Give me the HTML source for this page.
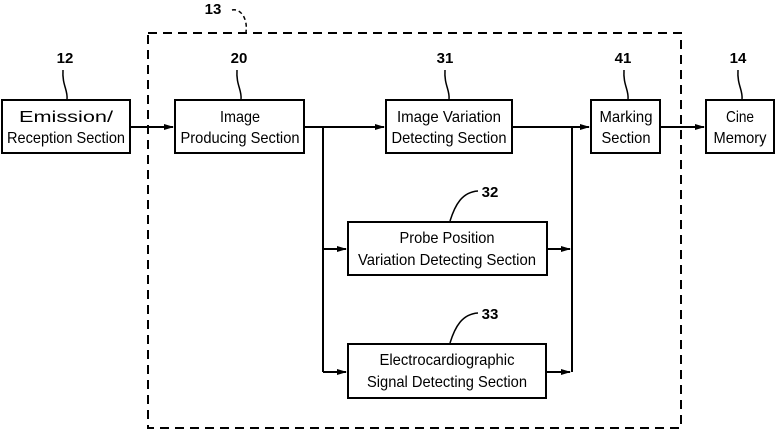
<!DOCTYPE html>
<html><head><style>html,body{margin:0;padding:0;background:#fff}</style></head>
<body>
<svg width="776" height="430" viewBox="0 0 776 430" xmlns="http://www.w3.org/2000/svg" font-family="Liberation Sans, sans-serif" font-size="16" fill="#000">
<defs><marker id="a" markerWidth="10" markerHeight="8" refX="9" refY="4" orient="auto" markerUnits="userSpaceOnUse"><path d="M0,1 L10,4 L0,7 Z" fill="#000"/></marker></defs>
<g fill="none" stroke="#000" stroke-width="2">
<rect x="148" y="33" width="533" height="395" stroke-dasharray="9,6"/>
<rect x="2" y="100" width="128" height="53"/>
<rect x="175" y="100" width="129" height="53"/>
<rect x="386" y="100" width="126" height="53"/>
<rect x="591" y="100" width="69" height="53"/>
<rect x="706" y="100" width="68" height="53"/>
<rect x="348" y="222" width="199" height="53"/>
<rect x="348" y="344" width="198" height="54"/>
<path d="M130,127 H173" marker-end="url(#a)"/>
<path d="M304,127 H384" marker-end="url(#a)"/>
<path d="M512,127 H589" marker-end="url(#a)"/>
<path d="M660,127 H704" marker-end="url(#a)"/>
<path d="M323,127 V372"/>
<path d="M323,249 H346" marker-end="url(#a)"/>
<path d="M323,372 H346" marker-end="url(#a)"/>
<path d="M572,127 V372"/>
<path d="M547,249 H570" marker-end="url(#a)"/>
<path d="M546,372 H570" marker-end="url(#a)"/>
<g stroke-width="1.5">
<path d="M67,99 C68,90 62,85 63,70"/>
<path d="M241,99 C242,90 236,85 237,70"/>
<path d="M449,99 C450,90 444,85 445,70"/>
<path d="M628,99 C629,90 623,85 624,70"/>
<path d="M742,99 C743,90 737,85 738,70"/>
<path d="M232,10 C240,8 248,18 246,32" stroke-dasharray="4,3"/>
<path d="M450,221 C455,205 462,192 478,191"/>
<path d="M450,343 C455,327 462,314 478,313"/>
</g>
</g>
<g text-anchor="middle" font-weight="bold" font-size="15">
<text x="65" y="63">12</text><text x="239" y="63">20</text><text x="445" y="63">31</text><text x="623" y="63">41</text><text x="738" y="63">14</text>
<text x="213" y="14">13</text><text x="490" y="197">32</text><text x="490" y="319">33</text>
</g>
<g text-anchor="middle" font-size="16">
<text x="66" y="122" textLength="94" lengthAdjust="spacingAndGlyphs">Emission/</text>
<text x="66" y="143" textLength="118" lengthAdjust="spacingAndGlyphs">Reception Section</text>
<text x="240" y="122" textLength="40" lengthAdjust="spacingAndGlyphs">Image</text>
<text x="240" y="143" textLength="119" lengthAdjust="spacingAndGlyphs">Producing Section</text>
<text x="449" y="122" textLength="104" lengthAdjust="spacingAndGlyphs">Image Variation</text>
<text x="449" y="143" textLength="115" lengthAdjust="spacingAndGlyphs">Detecting Section</text>
<text x="626" y="122" textLength="53" lengthAdjust="spacingAndGlyphs">Marking</text>
<text x="626" y="143" textLength="49" lengthAdjust="spacingAndGlyphs">Section</text>
<text x="740" y="122" textLength="28" lengthAdjust="spacingAndGlyphs">Cine</text>
<text x="740" y="143" textLength="53" lengthAdjust="spacingAndGlyphs">Memory</text>
<text x="447" y="243" textLength="95" lengthAdjust="spacingAndGlyphs">Probe Position</text>
<text x="447" y="265" textLength="178" lengthAdjust="spacingAndGlyphs">Variation Detecting Section</text>
<text x="447" y="365" textLength="135" lengthAdjust="spacingAndGlyphs">Electrocardiographic</text>
<text x="447" y="387" textLength="160" lengthAdjust="spacingAndGlyphs">Signal Detecting Section</text>
</g>
</svg>
</body></html>
